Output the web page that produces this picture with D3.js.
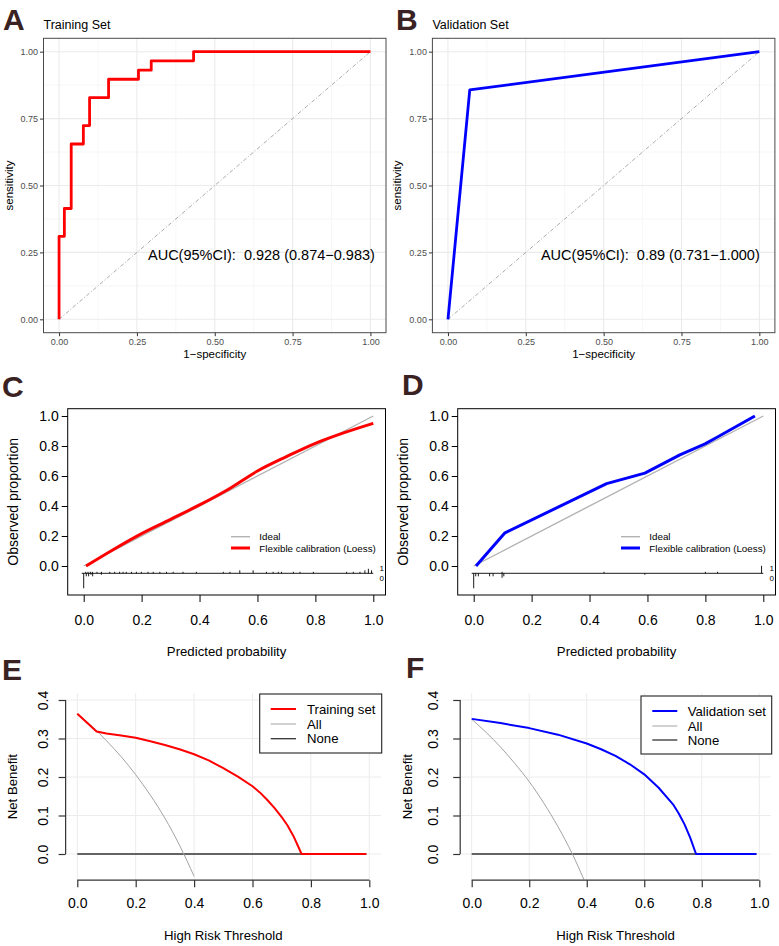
<!DOCTYPE html>
<html><head><meta charset="utf-8">
<script src="https://cdn.jsdelivr.net/npm/d3@7"></script>
<style>
body{margin:0;background:#fff}
svg text{font-family:"Liberation Sans",Arial,Helvetica,sans-serif}
</style>
</head><body>
<svg id="chart" width="779" height="946"></svg>
<script>
// ---------------- DATA ----------------
const panelLetters = ["A","B","C","D","E","F"];

// ROC curves (1-specificity, sensitivity)
const rocTrainFpr = [0, 0, 0.017, 0.017, 0.039, 0.039, 0.078, 0.078, 0.098, 0.098, 0.159, 0.159, 0.255, 0.255, 0.296, 0.296, 0.432, 0.432, 1.0];
const rocTrainTpr = [0, 0.310, 0.310, 0.414, 0.414, 0.655, 0.655, 0.724, 0.724, 0.828, 0.828, 0.897, 0.897, 0.931, 0.931, 0.966, 0.966, 1.0, 1.0];
const rocValFpr = [0, 0.070, 1.0];
const rocValTpr = [0, 0.857, 1.0];
const rocTicks = [0, 0.25, 0.5, 0.75, 1.0];
const rocTitles = ["Training Set", "Validation Set"];
const aucLabels = ["AUC(95%CI):  0.928 (0.874\u22120.983)", "AUC(95%CI):  0.89 (0.731\u22121.000)"];

// Calibration curves (predicted, observed)
const calTicks = [0, 0.2, 0.4, 0.6, 0.8, 1.0];
const calTrainPred = [0.008, 0.1, 0.2, 0.3, 0.4, 0.5, 0.6, 0.7, 0.8, 0.9, 1.0];
const calTrainObs  = [0, 0.107, 0.216, 0.311, 0.407, 0.512, 0.633, 0.729, 0.818, 0.889, 0.951];
const calValPred = [0.008, 0.108, 0.459, 0.591, 0.712, 0.799, 0.845, 0.971];
const calValObs  = [0, 0.221, 0.549, 0.619, 0.741, 0.814, 0.863, 1.0];
// rug spikes: [predicted probability, count]
const calTrainRug1 = [[0.007,1],[0.015,1],[0.023,1],[0.030,1],[0.046,1],[0.061,1],[0.090,1],[0.107,1],[0.124,1],[0.136,1],[0.147,1],[0.165,1],[0.182,1],[0.199,1],[0.222,1],[0.240,1],[0.263,1],[0.286,1],[0.309,1],[0.343,1],[0.389,1],[0.482,1],[0.505,1],[0.539,2],[0.585,2],[0.631,1],[0.654,1],[0.672,1],[0.683,1],[0.724,1],[0.747,1],[0.793,1],[0.908,1],[0.931,1],[0.954,1],[0.971,2],[0.983,3],[0.994,2]];
const calTrainRug0 = [[0.0,10],[0.009,2],[0.017,2],[0.025,1],[0.031,2],[0.061,1]];
const calValRug1 = [[0.098,1],[0.450,1],[0.800,1],[0.842,1],[0.994,5]];
const calValRug0 = [[0.0,10],[0.007,2],[0.016,2],[0.055,2],[0.067,2],[0.098,3],[0.104,2],[0.591,1]];
const calLegend = ["Ideal", "Flexible calibration (Loess)"];

// Decision curves (threshold, net benefit)
const dcaTicksX = [0, 0.2, 0.4, 0.6, 0.8, 1.0];
const dcaTicksY = [0, 0.1, 0.2, 0.3, 0.4];
const dcaTrainThr = [0, 0.066, 0.1, 0.15, 0.2, 0.25, 0.3, 0.35, 0.4, 0.45, 0.5, 0.55, 0.6, 0.625, 0.65, 0.675, 0.7, 0.72, 0.74, 0.755, 0.768, 0.99];
const dcaTrainNB  = [0.364, 0.318, 0.313, 0.308, 0.302, 0.293, 0.283, 0.272, 0.259, 0.243, 0.223, 0.201, 0.176, 0.160, 0.141, 0.120, 0.096, 0.074, 0.047, 0.022, 0, 0];
const dcaTrainAllThr = [0, 0.05, 0.1, 0.15, 0.2, 0.25, 0.3, 0.35, 0.4];
const dcaTrainAllNB  = [0.365, 0.332, 0.294, 0.253, 0.206, 0.153, 0.093, 0.023, -0.058];
const dcaValThr = [0, 0.1, 0.2, 0.3, 0.4, 0.45, 0.5, 0.55, 0.6, 0.65, 0.7, 0.72, 0.74, 0.76, 0.78, 0.99];
const dcaValNB  = [0.351, 0.340, 0.327, 0.310, 0.287, 0.272, 0.255, 0.233, 0.207, 0.172, 0.129, 0.105, 0.077, 0.042, 0, 0];
const dcaValAllThr = [0, 0.05, 0.1, 0.15, 0.2, 0.25, 0.3, 0.35, 0.39];
const dcaValAllNB  = [0.350, 0.316, 0.278, 0.235, 0.188, 0.133, 0.071, 0.0, -0.066];
const dcaNoneThr = [0, 0.99];
const dcaNoneNB  = [0, 0];
const dcaLegendTrain = ["Training set", "All", "None"];
const dcaLegendVal = ["Validation set", "All", "None"];

// ---------------- DRAW ----------------
const svg = d3.select("#chart");
svg.append("rect").attr("width", 779).attr("height", 946).attr("fill", "#fff");

function letter(t, x, y) {
  svg.append("text").attr("x", x).attr("y", y).text(t)
    .attr("font-size", 30).attr("font-weight", "bold").attr("fill", "#3a2222");
}

// ---- ROC panel (ggplot theme_bw style) ----
function rocPanel(cfg) {
  const g = svg.append("g");
  const x = d3.scaleLinear().domain([-0.05, 1.05]).range([cfg.left, cfg.right]);
  const y = d3.scaleLinear().domain([-0.05, 1.05]).range([cfg.bottom, cfg.top]);
  const minor = d3.pairs(rocTicks).map(p => (p[0] + p[1]) / 2);
  g.append("rect").attr("x", cfg.left).attr("y", cfg.top)
    .attr("width", cfg.right - cfg.left).attr("height", cfg.bottom - cfg.top).attr("fill", "#fff");
  g.selectAll(".mnx").data(minor).join("line")
    .attr("x1", d => x(d)).attr("x2", d => x(d)).attr("y1", cfg.top).attr("y2", cfg.bottom)
    .attr("stroke", "#f3f3f3").attr("stroke-width", 0.7);
  g.selectAll(".mny").data(minor).join("line")
    .attr("y1", d => y(d)).attr("y2", d => y(d)).attr("x1", cfg.left).attr("x2", cfg.right)
    .attr("stroke", "#f3f3f3").attr("stroke-width", 0.7);
  g.selectAll(".mjx").data(rocTicks).join("line")
    .attr("x1", d => x(d)).attr("x2", d => x(d)).attr("y1", cfg.top).attr("y2", cfg.bottom)
    .attr("stroke", "#ebebeb").attr("stroke-width", 1.1);
  g.selectAll(".mjy").data(rocTicks).join("line")
    .attr("y1", d => y(d)).attr("y2", d => y(d)).attr("x1", cfg.left).attr("x2", cfg.right)
    .attr("stroke", "#ebebeb").attr("stroke-width", 1.1);
  // diagonal reference
  g.append("path").datum([[0, 0], [1, 1]])
    .attr("d", d3.line().x(d => x(d[0])).y(d => y(d[1])))
    .attr("stroke", "#a0a0a0").attr("stroke-width", 0.9).attr("fill", "none")
    .attr("stroke-dasharray", "4,2,1,2");
  // ROC curve
  g.append("path").datum(d3.zip(cfg.fpr, cfg.tpr))
    .attr("d", d3.line().x(d => x(d[0])).y(d => y(d[1])))
    .attr("stroke", cfg.color).attr("stroke-width", 2.8).attr("fill", "none")
    .attr("stroke-linejoin", "round");
  // AUC label
  g.append("text").attr("x", x(0.65)).attr("y", y(0.24)).attr("text-anchor", "middle")
    .attr("dominant-baseline", "central").attr("font-size", 14.5).attr("fill", "#000")
    .style("white-space", "pre").text(cfg.auc);
  // border
  g.append("rect").attr("x", cfg.left).attr("y", cfg.top)
    .attr("width", cfg.right - cfg.left).attr("height", cfg.bottom - cfg.top)
    .attr("fill", "none").attr("stroke", "#4a4a4a").attr("stroke-width", 1);
  // axes
  const fmt = d3.format(".2f");
  const ax = g.append("g").attr("transform", `translate(0,${cfg.bottom})`)
    .call(d3.axisBottom(x).tickValues(rocTicks).tickFormat(fmt).tickSize(3.5).tickPadding(2));
  const ay = g.append("g").attr("transform", `translate(${cfg.left},0)`)
    .call(d3.axisLeft(y).tickValues(rocTicks).tickFormat(fmt).tickSize(3.5).tickPadding(2));
  [ax, ay].forEach(a => {
    a.select(".domain").remove();
    a.selectAll("line").attr("stroke", "#333");
    a.selectAll("text").attr("fill", "#4d4d4d").attr("font-size", 9);
  });
  g.append("text").attr("x", (cfg.left + cfg.right) / 2).attr("y", cfg.bottom + 25)
    .attr("text-anchor", "middle").attr("font-size", 11.5).attr("fill", "#000").text("1\u2212specificity");
  g.append("text").attr("transform", `translate(${cfg.left - 31},${(cfg.top + cfg.bottom) / 2}) rotate(-90)`)
    .attr("text-anchor", "middle").attr("font-size", 11.5).attr("fill", "#000").text("sensitivity");
  g.append("text").attr("x", cfg.left).attr("y", cfg.top - 9)
    .attr("font-size", 12.5).attr("fill", "#000").text(cfg.title);
}

rocPanel({left: 43.5, right: 386, top: 38.3, bottom: 332.7, fpr: rocTrainFpr, tpr: rocTrainTpr,
  color: "#ff0000", auc: aucLabels[0], title: rocTitles[0]});
rocPanel({left: 432.4, right: 774.9, top: 38.3, bottom: 332.7, fpr: rocValFpr, tpr: rocValTpr,
  color: "#0000ff", auc: aucLabels[1], title: rocTitles[1]});

// ---- Calibration panel (base R val.prob style) ----
function calPanel(cfg) {
  const g = svg.append("g");
  const x = d3.scaleLinear().domain([0, 1]).range([cfg.x0, cfg.x0 + 289.6]);
  const y = d3.scaleLinear().domain([0, 1]).range([566, 416]);
  const boxL = cfg.x0 - 16, boxR = cfg.x0 + 301.8, boxT = 408.7, boxB = 595;
  // ideal
  g.append("path").datum([[0, 0], [1, 1]])
    .attr("d", d3.line().x(d => x(d[0])).y(d => y(d[1])))
    .attr("stroke", "#b3b3b3").attr("stroke-width", 1.4).attr("fill", "none");
  // loess
  g.append("path").datum(d3.zip(cfg.pred, cfg.obs))
    .attr("d", d3.line().curve(cfg.curve).x(d => x(d[0])).y(d => y(d[1])))
    .attr("stroke", cfg.color).attr("stroke-width", 3).attr("fill", "none")
    .attr("stroke-linejoin", "round");
  // rug / spike histogram
  const rugY = 573.3, unit = 1.5;
  g.append("line").attr("x1", x(-0.007)).attr("x2", x(1)).attr("y1", rugY).attr("y2", rugY)
    .attr("stroke", "#000").attr("stroke-width", 0.9);
  g.selectAll(".r1").data(cfg.rug1).join("line")
    .attr("x1", d => x(d[0])).attr("x2", d => x(d[0])).attr("y1", rugY).attr("y2", d => rugY - d[1] * unit)
    .attr("stroke", "#000").attr("stroke-width", 0.9);
  g.selectAll(".r0").data(cfg.rug0).join("line")
    .attr("x1", d => x(d[0])).attr("x2", d => x(d[0])).attr("y1", rugY).attr("y2", d => rugY + d[1] * unit)
    .attr("stroke", "#000").attr("stroke-width", 0.9);
  g.append("text").attr("x", x(1) + 8.5).attr("y", 568).attr("font-size", 8).attr("text-anchor", "middle")
    .attr("dominant-baseline", "central").text("1");
  g.append("text").attr("x", x(1) + 8.5).attr("y", 578).attr("font-size", 8).attr("text-anchor", "middle")
    .attr("dominant-baseline", "central").text("0");
  // legend
  const lx = x(0) + 147.3;
  g.append("line").attr("x1", lx).attr("x2", lx + 19).attr("y1", 536.7).attr("y2", 536.7)
    .attr("stroke", "#b3b3b3").attr("stroke-width", 1.4);
  g.append("line").attr("x1", lx).attr("x2", lx + 19).attr("y1", 548).attr("y2", 548)
    .attr("stroke", cfg.color).attr("stroke-width", 3);
  g.append("text").attr("x", lx + 28.3).attr("y", 536.7).attr("dominant-baseline", "central")
    .attr("font-size", 9.8).text(calLegend[0]);
  g.append("text").attr("x", lx + 28.3).attr("y", 548).attr("dominant-baseline", "central")
    .attr("font-size", 9.8).text(calLegend[1]);
  // box
  g.append("rect").attr("x", boxL).attr("y", boxT).attr("width", boxR - boxL).attr("height", boxB - boxT)
    .attr("fill", "none").attr("stroke", "#000").attr("stroke-width", 1);
  // axes
  const f1 = d3.format(".1f");
  const ax = g.append("g").attr("transform", `translate(0,${boxB})`)
    .call(d3.axisBottom(x).tickValues(calTicks).tickFormat(f1).tickSize(7).tickPadding(13));
  const ay = g.append("g").attr("transform", `translate(${boxL},0)`)
    .call(d3.axisLeft(y).tickValues(calTicks).tickFormat(f1).tickSize(6).tickPadding(3));
  [ax, ay].forEach(a => {
    a.select(".domain").remove();
    a.selectAll("line").attr("stroke", "#000");
    a.selectAll("text").attr("fill", "#000").attr("font-size", 14);
  });
  g.append("text").attr("x", (boxL + boxR) / 2).attr("y", 651.7).attr("text-anchor", "middle")
    .attr("dominant-baseline", "central").attr("font-size", 13.2).text("Predicted probability");
  g.append("text").attr("transform", `translate(${boxL - 55},${(boxT + boxB) / 2}) rotate(-90)`)
    .attr("text-anchor", "middle").attr("dominant-baseline", "central").attr("font-size", 14)
    .text("Observed proportion");
}

calPanel({x0: 83.7, pred: calTrainPred, obs: calTrainObs, rug1: calTrainRug1, rug0: calTrainRug0,
  color: "#ff0000", curve: d3.curveMonotoneX});
calPanel({x0: 473.7, pred: calValPred, obs: calValObs, rug1: calValRug1, rug0: calValRug0,
  color: "#0000ff", curve: d3.curveLinear});

// ---- Decision curve panel ----
function dcaPanel(cfg) {
  const g = svg.append("g");
  const x = d3.scaleLinear().domain([0, 1]).range([cfg.x0, cfg.x1]);
  const y = d3.scaleLinear().domain([0, 0.4]).range([854, 700]);
  const unitX = cfg.x1 - cfg.x0;
  const left = cfg.x0 - 0.04 * unitX, right = cfg.x1 + 0.04 * unitX;
  const top = y(0.418), bottom = y(-0.068);
  // grid
  g.selectAll(".gx").data(dcaTicksX).join("line")
    .attr("x1", d => x(d)).attr("x2", d => x(d)).attr("y1", top).attr("y2", bottom)
    .attr("stroke", "#ececec").attr("stroke-width", 1);
  g.selectAll(".gy").data(dcaTicksY).join("line")
    .attr("y1", d => y(d)).attr("y2", d => y(d)).attr("x1", left).attr("x2", right)
    .attr("stroke", "#ececec").attr("stroke-width", 1);
  const smooth = d3.line().curve(d3.curveMonotoneX).x(d => x(d[0])).y(d => y(d[1]));
  const straight = d3.line().x(d => x(d[0])).y(d => y(d[1]));
  g.append("path").datum(d3.zip(dcaNoneThr, dcaNoneNB)).attr("d", straight)
    .attr("stroke", "#333").attr("stroke-width", 1.3).attr("fill", "none");
  g.append("path").datum(d3.zip(cfg.allThr, cfg.allNB)).attr("d", smooth)
    .attr("stroke", "#a3a3a3").attr("stroke-width", 1).attr("fill", "none");
  g.append("path").datum(d3.zip(cfg.thr, cfg.nb)).attr("d", straight)
    .attr("stroke", cfg.color).attr("stroke-width", 2).attr("fill", "none").attr("stroke-linejoin", "round");
  // axes
  const f1 = d3.format(".1f");
  const ax = g.append("g").attr("transform", `translate(0,${bottom})`)
    .call(d3.axisBottom(x).tickValues(dcaTicksX).tickFormat(f1).tickSize(7).tickPadding(10).tickSizeOuter(0));
  const ay = g.append("g").attr("transform", `translate(${left},0)`)
    .call(d3.axisLeft(y).tickValues(dcaTicksY).tickFormat(f1).tickSize(7).tickSizeOuter(0));
  [ax, ay].forEach(a => {
    a.select(".domain").attr("stroke", "#333").attr("stroke-width", 1.2);
    a.selectAll("line").attr("stroke", "#333").attr("stroke-width", 1.2);
    a.selectAll("text").attr("fill", "#000").attr("font-size", 14);
  });
  ax.selectAll("text").attr("dy", "0.75em");
  ay.selectAll(".tick text").attr("x", null).attr("dy", null)
    .attr("text-anchor", "middle").attr("dominant-baseline", "central")
    .attr("transform", `translate(${cfg.labX - left},0) rotate(-90)`);
  ay.select(".domain").attr("d", `M0,${y(0)}V${y(0.4)}`);
  ax.select(".domain").attr("d", `M${x(0)},0H${x(1)}`);
  g.append("text").attr("x", (left + right) / 2).attr("y", 935).attr("text-anchor", "middle")
    .attr("dominant-baseline", "central").attr("font-size", 13.2).text("High Risk Threshold");
  g.append("text").attr("transform", `translate(${left - 53},${(top + bottom) / 2}) rotate(-90)`)
    .attr("text-anchor", "middle").attr("dominant-baseline", "central").attr("font-size", 13.2)
    .text("Net Benefit");
  // legend
  const L = cfg.legend;
  g.append("rect").attr("x", L.x).attr("y", L.y).attr("width", L.w).attr("height", L.h)
    .attr("fill", "#fff").attr("stroke", "#222").attr("stroke-width", 1.1);
  const colors = [cfg.color, "#a3a3a3", "#333"], widths = [2, 1, 1.3];
  cfg.labels.forEach((t, i) => {
    const yy = L.rows[i];
    g.append("line").attr("x1", L.lx1).attr("x2", L.lx2).attr("y1", yy).attr("y2", yy)
      .attr("stroke", colors[i]).attr("stroke-width", widths[i]);
    g.append("text").attr("x", L.tx).attr("y", yy).attr("dominant-baseline", "central")
      .attr("font-size", 13.2).text(t);
  });
}

dcaPanel({x0: 77.3, x1: 369.3, thr: dcaTrainThr, nb: dcaTrainNB, allThr: dcaTrainAllThr, allNB: dcaTrainAllNB,
  color: "#ff0000", labels: dcaLegendTrain, labX: 43,
  legend: {x: 259.7, y: 694, w: 122, h: 59, rows: [709, 724, 738.7], lx1: 270.7, lx2: 296, tx: 307}});
dcaPanel({x0: 471.7, x1: 759.3, thr: dcaValThr, nb: dcaValNB, allThr: dcaValAllThr, allNB: dcaValAllNB,
  color: "#0000ff", labels: dcaLegendVal, labX: 433,
  legend: {x: 641, y: 696, w: 130.7, h: 58, rows: [711, 726, 740], lx1: 652.3, lx2: 677.3, tx: 687.7}});

// panel letters
letter(panelLetters[0], 3, 30);
letter(panelLetters[1], 396, 30);
letter(panelLetters[2], 2, 397);
letter(panelLetters[3], 402, 395);
letter(panelLetters[4], 2, 680);
letter(panelLetters[5], 406, 678);
</script>
</body></html>
